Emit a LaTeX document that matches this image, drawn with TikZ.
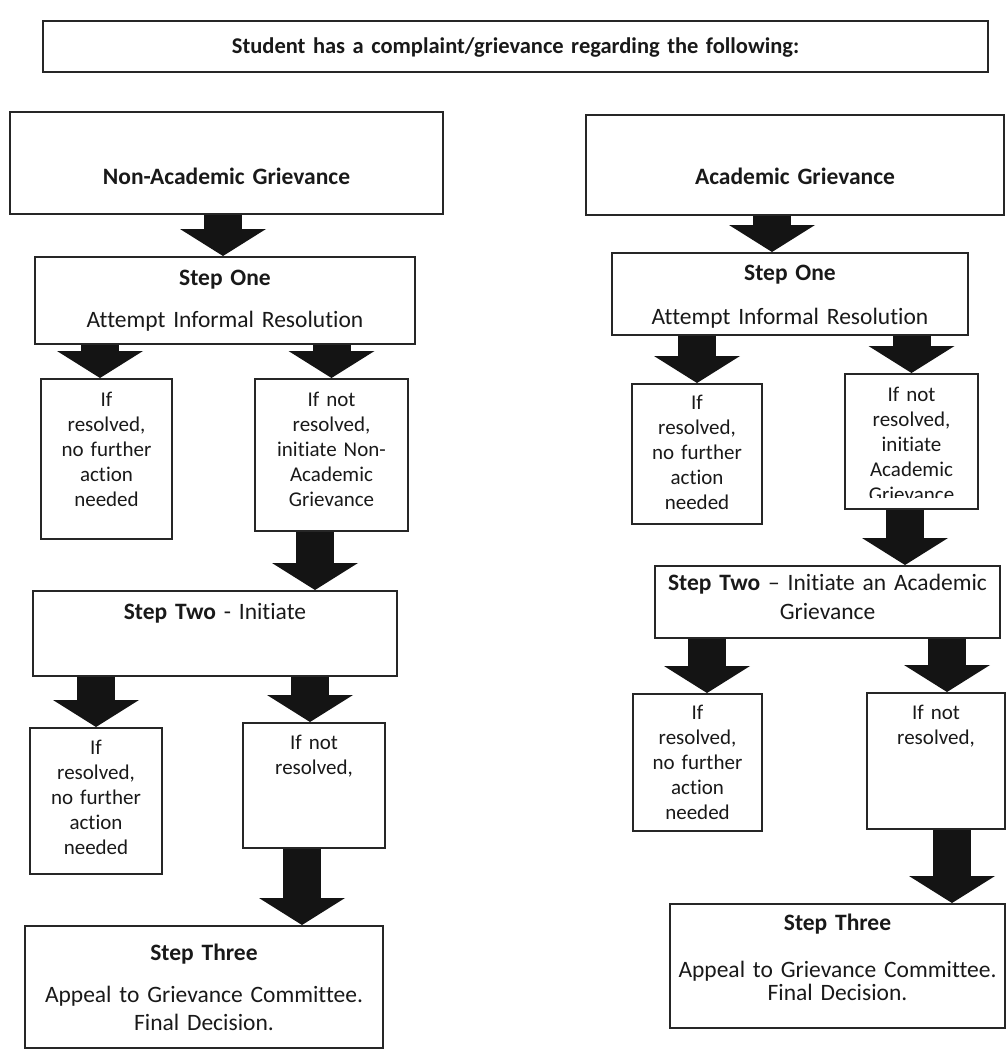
\documentclass[tikz,border=0pt]{standalone}
\usepackage{fontspec}
\setmainfont[Ligatures=NoCommon]{Carlito}
\usepackage{tikz}
\usetikzlibrary{arrows.meta}

\begin{document}
\begin{tikzpicture}[x=1pt,y=-1pt]
	\tikzstyle{every node}=[font=\fontsize{23.5}{28}\selectfont, text=black!90]
	\tikzstyle{box}=[draw=black!85, line width=1.6pt, rectangle, anchor=north, inner xsep=4pt, inner ysep=0pt, align=center]
	\tikzstyle{small}=[box, font=\fontsize{21}{25}\selectfont]
	\tikzstyle{fat}=[line width=38pt, draw=black!92, -{Triangle[width=86pt,length=27pt,line width=0pt]}]
	
	\useasboundingbox (0,0) rectangle (1007,1054);
	
	% heading
	\node[box, minimum width=945pt, text width=937pt, text height=33pt, text depth=18pt, font=\fontsize{22.5}{27}\selectfont\bfseries] (head) at (515.5,20) {Student has a complaint/grievance regarding the following:};
	
	% non-academic side
	\node[box, minimum width=433pt, text width=425pt, text height=73pt, text depth=29pt, font=\fontsize{23.5}{28}\selectfont\bfseries] (nonac) at (226.5,111) {Non-Academic Grievance};
	\node[box, minimum width=380pt, text width=372pt, text height=29pt, text depth=58pt] (s1l) at (225,256) {\textbf{Step One}\\[14pt]Attempt Informal Resolution};
	\node[small, minimum width=131pt, text width=123pt, text height=28pt, text depth=132pt] (r1l) at (106.5,378) {If\\resolved,\\no further\\action\\needed};
	\node[small, minimum width=153pt, text width=145pt, text height=28pt, text depth=124pt] (n1l) at (331.5,378) {If not\\resolved,\\initiate Non-\\Academic\\Grievance};
	\node[box, minimum width=364pt, text width=356pt, text height=29pt, text depth=56pt] (s2l) at (215,590) {\textbf{Step Two} - Initiate};
	\node[small, minimum width=132pt, text width=124pt, text height=27pt, text depth=119pt] (r2l) at (96,727) {If\\resolved,\\no further\\action\\needed};
	\node[small, minimum width=142pt, text width=134pt, text height=27pt, text depth=98pt] (n2l) at (314,722) {If not\\resolved,};
	\node[box, minimum width=358pt, text width=350pt, text height=35pt, text depth=87pt] (s3l) at (204,925) {\textbf{Step Three}\\[14pt]Appeal to Grievance Committee.\\Final Decision.};
	
	% academic side
	\node[box, minimum width=418pt, text width=410pt, text height=70pt, text depth=30pt, font=\fontsize{23.5}{28}\selectfont\bfseries] (acad) at (795,114) {Academic Grievance};
	\node[box, minimum width=356pt, text width=348pt, text height=28pt, text depth=54pt] (s1r) at (790,252) {\textbf{Step One}\\[16pt]Attempt Informal Resolution};
	\node[small, minimum width=130pt, text width=122pt, text height=26pt, text depth=114pt] (r1r) at (697,383) {If\\resolved,\\no further\\action\\needed};
	\node[small, minimum width=133pt, minimum height=135pt] (n1r) at (911.5,373) {};
	\begin{scope}
		\clip (845,373) rectangle (978,497);
		\node[small, draw=none, text width=125pt, text height=28pt, text depth=100pt] (n1rt) at (911.5,373) {If not\\resolved,\\initiate\\Academic\\Grievance};
	\end{scope}
	\node[box, minimum width=345pt, text width=337pt, text height=25pt, text depth=47pt] (s2r) at (827.5,565) {\textbf{Step Two} -- Initiate an Academic\\[1pt]Grievance};
	\node[small, minimum width=129pt, text width=121pt, text height=26pt, text depth=111pt] (r2r) at (697.5,693) {If\\resolved,\\no further\\action\\needed};
	\node[small, minimum width=138pt, text width=130pt, text height=27pt, text depth=109pt] (n2r) at (936,692) {If not\\resolved,};
	\node[box, minimum width=335pt, text width=327pt, text height=27pt, text depth=97pt] (s3r) at (837.5,903) {\textbf{Step Three}\\[19pt]Appeal to Grievance Committee.\\[-5pt]Final Decision.};
	
	% block arrows
	\draw[fat] (nonac.south -| 223,0) -- (s1l.north -| 223,0);
	\draw[fat] (s1l.south -| 100,0) -- (r1l.north -| 100,0);
	\draw[fat] (s1l.south -| n1l.north) -- (n1l.north);
	\draw[fat] (n1l.south -| 315,0) -- (s2l.north -| 315,0);
	\draw[fat] (s2l.south -| r2l.north) -- (r2l.north);
	\draw[fat] (s2l.south -| 310,0) -- (n2l.north -| 310,0);
	\draw[fat] (n2l.south -| 302,0) -- (s3l.north -| 302,0);
	
	\draw[fat] (acad.south -| 772,0) -- (s1r.north -| 772,0);
	\draw[fat] (s1r.south -| r1r.north) -- (r1r.north);
	\draw[fat] (s1r.south -| n1r.north) -- (n1r.north);
	\draw[fat] (n1r.south -| 905,0) -- (s2r.north -| 905,0);
	\draw[fat] (s2r.south -| 707,0) -- (r2r.north -| 707,0);
	\draw[fat] (s2r.south -| 947,0) -- (n2r.north -| 947,0);
	\draw[fat] (n2r.south -| 952,0) -- (s3r.north -| 952,0);
	
\end{tikzpicture}
\end{document}
